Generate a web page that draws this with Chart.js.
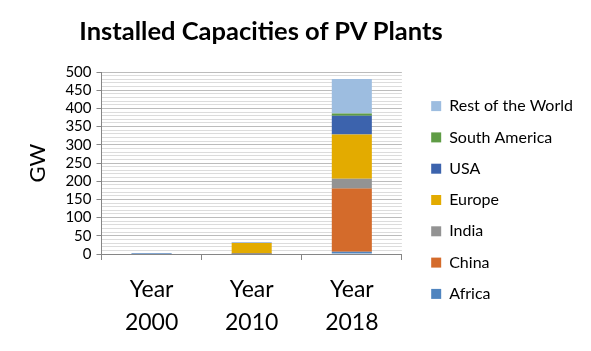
<!DOCTYPE html>
<html>
<head>
<meta charset="utf-8">
<script src="https://cdn.jsdelivr.net/npm/chart.js@4"></script>
<style>
  body { margin: 0; background: #fff; }
  #wrap { position: relative; width: 591px; height: 351px; }
  #title {
    position: absolute; left: 0; top: 15px; width: 522px;
    text-align: center; font: bold 25.5px Lato, sans-serif; color: #000;
  }
  canvas { position: absolute; left: 0; top: 0; }
</style>
</head>
<body>
<div id="wrap">
  <canvas id="myChart" width="591" height="351"></canvas>
  <div id="title">Installed Capacities of PV Plants</div>
</div>
<script>
// values, GW
var years = [["Year", "2000"], ["Year", "2010"], ["Year", "2018"]];
var africa = [0.1, 0.3, 6];
var china = [0.02, 0.9, 174];
var india = [0, 0.1, 27];
var europe = [0.2, 29, 121];
var usa = [0.1, 0.8, 52];
var southAmerica = [0, 0, 6];
var restOfWorld = [1.1, 1.5, 95];
var yTicks = [0, 50, 100, 150, 200, 250, 300, 350, 400, 450, 500];

var font = "Lato, sans-serif";

function series(label, values, color) {
    return {
        label: label,
        data: values,
        backgroundColor: color,
        borderWidth: 0,
        barPercentage: 0.4,
        categoryPercentage: 1
    };
}

var data = {
    labels: years,
    datasets: [
        series("Africa", africa, "#4f84bf"),
        series("China", china, "#d46b2b"),
        series("India", india, "#939393"),
        series("Europe", europe, "#e3ab00"),
        series("USA", usa, "#3c63ad"),
        series("South America", southAmerica, "#5f9c45"),
        series("Rest of the World", restOfWorld, "#9dbde0")
    ]
};

// empty axis used only as a spacer of the given size
function spacer(position, size) {
    return {
        type: "linear",
        position: position,
        grid: { display: false },
        border: { display: false },
        ticks: { display: false },
        afterFit: function (scale) {
            if (scale.isHorizontal()) scale.height = size;
            else scale.width = size;
        }
    };
}

var options = {
    responsive: false,
    animation: false,
    layout: { padding: { top: 55, right: 8, bottom: 6, left: 25 } },
    plugins: {
        title: { display: false },
        tooltip: { enabled: false },
        legend: {
            position: "right",
            reverse: true,
            maxWidth: 190,
            labels: {
                boxWidth: 10,
                boxHeight: 10,
                padding: 15.3,
                color: "#000",
                font: { family: font, size: 16 }
            }
        }
    },
    scales: {
        x: {
            stacked: true,
            grid: {
                offset: true,
                drawOnChartArea: false,
                tickLength: 6,
                color: "#868686"
            },
            border: { color: "#868686" },
            afterFit: function (scale) {
                scale.height = 91;
            },
            ticks: {
                color: "#000",
                padding: 13,
                maxRotation: 0,
                font: { family: font, size: 23, lineHeight: 1.45 }
            }
        },
        y: {
            stacked: true,
            min: 0,
            max: 500,
            title: {
                display: true,
                text: "GW",
                color: "#000",
                padding: { top: 0, bottom: 9 },
                font: { family: font, size: 22 }
            },
            border: { color: "#868686" },
            grid: {
                color: function (c) {
                    return c.tick.value % 50 === 0 ? "#bcbcbc" : "#dcdcdc";
                },
                tickColor: function (c) {
                    return c.tick.value % 50 === 0 ? "#868686" : "rgba(0,0,0,0)";
                },
                tickLength: 5
            },
            ticks: {
                stepSize: 10,
                autoSkip: false,
                color: "#000",
                padding: 5,
                font: { family: font, size: 15 },
                callback: function (v) {
                    return yTicks.indexOf(v) >= 0 ? v : "";
                }
            }
        },
        gapRight: spacer("right", 14),
        gapTop: spacer("top", 17)
    }
};

var ctx = document.getElementById("myChart").getContext("2d");
var chart = new Chart(ctx, {
    type: "bar",
    data,
    options
});
</script>
</body>
</html>
